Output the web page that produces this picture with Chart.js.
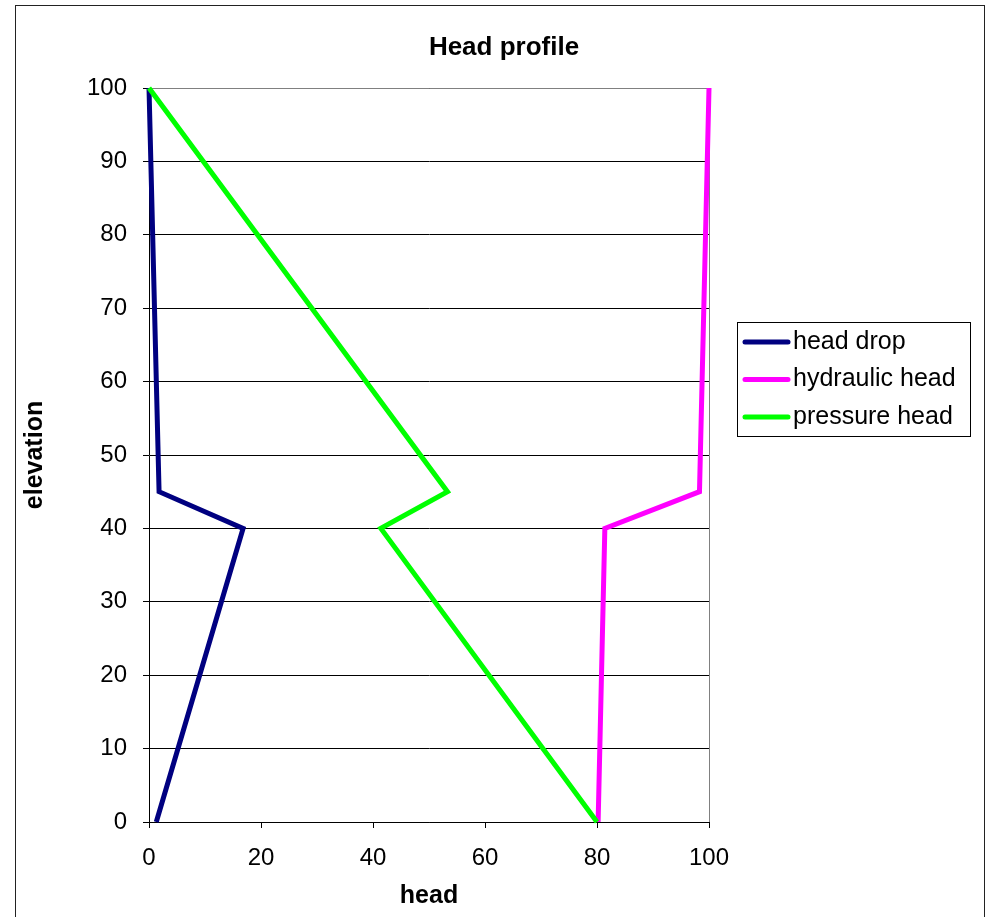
<!DOCTYPE html>
<html>
<head>
<meta charset="utf-8">
<title>Head profile</title>
<script src="https://cdn.jsdelivr.net/npm/chart.js@4/dist/chart.umd.min.js"></script>
<style>
  html, body { margin: 0; padding: 0; background: #ffffff; }
  #wrap { width: 986px; height: 917px; position: relative; }
</style>
</head>
<body>
<div id="wrap"><canvas id="chart" width="986" height="917"></canvas></div>
<script>
// Elevation of each profile point
const elevation = [0, 40, 45, 100];
// Heads at each elevation
const headDrop = [1.3, 16.8, 1.8, 0];
const hydraulicHead = [80.2, 81.4, 98.3, 100];
const pressureHead = [80, 41.4, 53.3, 0];

const seriesNames = ['head drop', 'hydraulic head', 'pressure head'];
const seriesColors = ['#000080', '#FF00FF', '#00FF00'];
const xTicks = [0, 20, 40, 60, 80, 100];
const yTicks = [0, 10, 20, 30, 40, 50, 60, 70, 80, 90, 100];

const FONT = "'Liberation Sans', Arial, Helvetica, sans-serif";

function toPoints(values) {
  return values.map((v, i) => ({ x: v, y: elevation[i] }));
}

// Outer frame, plot frame, title and legend
const decorations = {
  id: 'decorations',
  beforeDraw(chart) {
    const ctx = chart.ctx;
    ctx.save();
    ctx.fillStyle = '#ffffff';
    ctx.fillRect(0, 0, chart.width, chart.height);
    ctx.strokeStyle = '#222222';
    ctx.lineWidth = 1;
    ctx.strokeRect(15.5, 5.5, 969, 930);
    ctx.restore();
  },
  beforeDatasetsDraw(chart) {
    const { ctx, chartArea: a } = chart;
    ctx.save();
    ctx.strokeStyle = '#808080';
    ctx.lineWidth = 1;
    ctx.beginPath();
    ctx.moveTo(a.left, a.top + 0.5);
    ctx.lineTo(a.right + 0.5, a.top + 0.5);
    ctx.lineTo(a.right + 0.5, a.bottom);
    ctx.stroke();
    ctx.restore();
  },
  afterDraw(chart) {
    const ctx = chart.ctx;
    ctx.save();
    // title
    ctx.fillStyle = '#000000';
    ctx.font = 'bold 26px ' + FONT;
    ctx.textAlign = 'center';
    ctx.textBaseline = 'middle';
    ctx.fillText('Head profile', 504, 48);

    // legend
    const bx = 737.5, by = 322.5, bw = 233, bh = 114;
    ctx.fillStyle = '#ffffff';
    ctx.fillRect(bx, by, bw, bh);
    ctx.strokeStyle = '#000000';
    ctx.lineWidth = 1;
    ctx.strokeRect(bx, by, bw, bh);
    ctx.font = '25px ' + FONT;
    ctx.textAlign = 'left';
    ctx.textBaseline = 'middle';
    chart.data.datasets.forEach((ds, i) => {
      const yy = 342 + i * 37.5;
      ctx.strokeStyle = ds.borderColor;
      ctx.lineWidth = 5;
      ctx.lineCap = 'round';
      ctx.beginPath();
      ctx.moveTo(745, yy);
      ctx.lineTo(788, yy);
      ctx.stroke();
      ctx.fillStyle = '#000000';
      ctx.fillText(ds.label, 793, yy);
    });
    ctx.restore();
  }
};

const datasets = [headDrop, hydraulicHead, pressureHead].map((vals, i) => ({
  label: seriesNames[i],
  data: toPoints(vals),
  borderColor: seriesColors[i],
  backgroundColor: seriesColors[i],
  borderWidth: 5,
  pointRadius: 0,
  showLine: true,
  fill: false,
  tension: 0,
  clip: 6,
  order: 3 - i
}));

new Chart(document.getElementById('chart'), {
  type: 'scatter',
  data: { datasets },
  options: {
    responsive: false,
    animation: false,
    devicePixelRatio: 1,
    layout: { padding: { left: 0, right: 277, top: 88, bottom: 0 } },
    plugins: {
      legend: { display: false },
      title: { display: false },
      tooltip: { enabled: false }
    },
    scales: {
      x: {
        type: 'linear',
        min: 0,
        max: 100,
        afterFit(scale) { scale.height = 95; },
        afterBuildTicks(scale) { scale.ticks = xTicks.map(v => ({ value: v })); },
        ticks: {
          color: '#000000',
          font: { family: FONT, size: 24 },
          padding: 16,
          maxRotation: 0
        },
        grid: {
          drawOnChartArea: false,
          drawTicks: true,
          tickLength: 6,
          tickColor: '#000000'
        },
        border: { display: true, color: '#000000', width: 1 },
        title: {
          display: true,
          text: 'head',
          color: '#000000',
          font: { family: FONT, size: 25, weight: 'bold' },
          padding: { top: 0, bottom: 6 }
        }
      },
      y: {
        type: 'linear',
        min: 0,
        max: 100,
        afterFit(scale) { scale.width = 149; },
        afterBuildTicks(scale) { scale.ticks = yTicks.map(v => ({ value: v })); },
        ticks: {
          color: '#000000',
          font: { family: FONT, size: 24 },
          padding: 16
        },
        grid: {
          drawOnChartArea: true,
          drawTicks: true,
          tickLength: 6,
          color: '#000000',
          tickColor: '#000000',
          lineWidth: 1
        },
        border: { display: true, color: '#000000', width: 1 },
        title: {
          display: true,
          text: 'elevation',
          color: '#000000',
          font: { family: FONT, size: 25, weight: 'bold' },
          padding: { top: 20, bottom: 0 }
        }
      }
    }
  },
  plugins: [decorations]
});
</script>
</body>
</html>
